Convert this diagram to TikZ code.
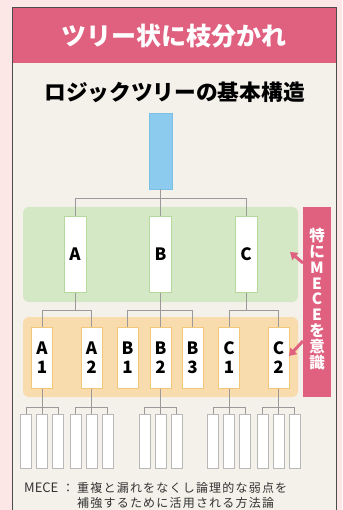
\documentclass[tikz,border=0pt]{standalone}
\usepackage{fontspec}
\setmainfont{Noto Sans CJK JP}
\usetikzlibrary{arrows.meta}
\definecolor{bgpink}{HTML}{FCE6E6}
\definecolor{cardbg}{HTML}{F4F1EA}
\definecolor{headpink}{HTML}{E0607F}
\definecolor{bandgreen}{HTML}{D5E8C5}
\definecolor{bandorange}{HTML}{F8DCAE}
\definecolor{rootblue}{HTML}{8DCBEE}
\definecolor{rootedge}{HTML}{7CC0E6}
\definecolor{greenedge}{HTML}{B5D89C}
\definecolor{orangeedge}{HTML}{F0C878}
\definecolor{lineg}{HTML}{9A9A9A}
\definecolor{leafedge}{HTML}{B8B8B8}
\definecolor{foottext}{HTML}{333333}
\tikzset{
  lvone/.style={draw=greenedge, line width=1pt, fill=white, minimum width=22pt, minimum height=75pt, inner sep=0pt, font=\bfseries\fontsize{17}{17}\selectfont},
  lvtwo/.style={draw=orangeedge, line width=1pt, fill=white, minimum width=21pt, minimum height=61pt, inner sep=0pt, align=center, font=\bfseries\fontsize{17}{19}\selectfont},
  leaf/.style={draw=leafedge, line width=0.8pt, fill=white, minimum width=11pt, minimum height=54pt, inner sep=0pt},
  conn/.style={draw=lineg, line width=1pt},
  pinkarrow/.style={draw=headpink, line width=3pt, -{Triangle[length=7pt,width=9pt]}},
  foot/.style={anchor=west, inner sep=0pt, text=foottext, font=\fontsize{12}{12}\selectfont\addfontfeatures{LetterSpace=10}},
  footlatin/.style={anchor=west, inner sep=0pt, text=foottext, font=\fontsize{13}{13}\selectfont}
}
\begin{document}
\begin{tikzpicture}[x=1pt,y=-1pt]
\useasboundingbox (0,0) rectangle (342,510);
\fill[bgpink] (0,0) rectangle (342,510);
\fill[cardbg] (12,7) rectangle (336,515);
\fill[headpink] (12,7) rectangle (336,63);
\draw[black!70, line width=0.8pt] (12,515) -- (12,7) -- (336,7) -- (336,515);
\node[text=white, font=\bfseries\fontsize{25}{25}\selectfont] (head) at (174,36) {ツリー状に枝分かれ};
\node[font=\bfseries\fontsize{21.7}{21.7}\selectfont] (title) at (174.5,92) {ロジックツリーの基本構造};
% bands
\fill[bandgreen, rounded corners=6pt] (23,207) rectangle (298,302);
\fill[bandorange, rounded corners=6pt] (23,317) rectangle (298,397);
% root
\node[draw=rootedge, fill=rootblue, minimum width=23pt, minimum height=76pt, inner sep=0pt, line width=0.8pt] (root) at (160.5,151) {};
% level 1
\node[lvone] (A) at (75,254.5) {A};
\node[lvone] (B) at (160.5,254.5) {B};
\node[lvone] (C) at (246,254.5) {C};
\coordinate (j0) at (160.5,199);
\draw[conn] (root.south) -- (j0);
\draw[conn] (A.north) |- (j0);
\draw[conn] (C.north) |- (j0);
\draw[conn] (B.north) -- (j0);
% level 2
\node[lvtwo] (A1) at (42,357.5) {A\\1};
\node[lvtwo] (A2) at (91.5,357.5) {A\\2};
\node[lvtwo] (B1) at (127.5,357.5) {B\\1};
\node[lvtwo] (B2) at (160.5,357.5) {B\\2};
\node[lvtwo] (B3) at (192.5,357.5) {B\\3};
\node[lvtwo] (C1) at (229,357.5) {C\\1};
\node[lvtwo] (C2) at (278.5,357.5) {C\\2};
\coordinate (ja) at (75,310);
\coordinate (jb) at (160.5,310);
\coordinate (jc) at (246,310);
\draw[conn] (A.south) -- (ja);
\draw[conn] (A1.north) |- (ja);
\draw[conn] (A2.north) |- (ja);
\draw[conn] (B.south) -- (jb);
\draw[conn] (B1.north) |- (jb);
\draw[conn] (B3.north) |- (jb);
\draw[conn] (B2.north) -- (jb);
\draw[conn] (C.south) -- (jc);
\draw[conn] (C1.north) |- (jc);
\draw[conn] (C2.north) |- (jc);
% leaves
\foreach \p/\x in {A1/42, A2/91.5, B2/160.5, C1/229, C2/278.5}{
  \node[leaf] (\p l1) at (\x-16,441) {};
  \node[leaf] (\p l2) at (\x,441) {};
  \node[leaf] (\p l3) at (\x+16,441) {};
  \coordinate (\p j) at (\x,407);
  \draw[conn] (\p.south) -- (\p l2.north);
  \draw[conn] (\p l1.north) |- (\p j);
  \draw[conn] (\p l3.north) |- (\p j);
}
% MECE label
\fill[headpink] (303,207) rectangle (331,397);
\node[text=white, align=center, font=\bfseries\fontsize{15.5}{15.8}\selectfont, inner sep=0pt] (lab) at (317,299) {特\\に\\M\\E\\C\\E\\を\\意\\識};
\coordinate (t1) at (303,263);
\coordinate (t2) at (303,341);
\draw[pinkarrow] (t1) -- (290,252);
\draw[pinkarrow] (t2) -- (289,356);
% footer
\node[footlatin] (f0) at (24,488) {MECE};
\node[foot, anchor=center] (fc) at (68,488) {：};
\node[foot] (f1) at (77,488) {重複と漏れをなくし論理的な弱点を};
\node[foot] (f2) at (77,503) {補強するために活用される方法論};
\end{tikzpicture}
\end{document}
